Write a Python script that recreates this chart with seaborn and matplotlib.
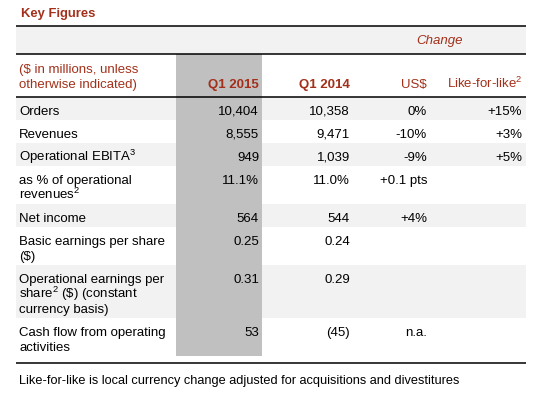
import matplotlib
matplotlib.use("Agg")
import matplotlib.pyplot as plt
import seaborn as sns

# table contents
row_labels = [
    "Orders",
    "Revenues",
    "Operational EBITA$^{3}$",
    "as % of operational\nrevenues$^{2}$",
    "Net income",
    "Basic earnings per share\n(\\$)",
    "Operational earnings per\nshare$^{2}$ (\\$) (constant\ncurrency basis)",
    "Cash flow from operating\nactivities",
]
q1_2015 = ["10,404", "8,555", "949", "11.1%", "564", "0.25", "0.31", "53"]
q1_2014 = ["10,358", "9,471", "1,039", "11.0%", "544", "0.24", "0.29", "(45)"]
change_usd = ["0%", "-10%", "-9%", "+0.1 pts", "+4%", "", "", "n.a."]
change_lfl = ["+15%", "+3%", "+5%", "", "", "", "", ""]
col_headers = ["Q1 2015", "Q1 2014", "US\\$", "Like-for-like$^{2}$"]
unit_header = "(\\$ in millions, unless\notherwise indicated)"
title = "Key Figures"
group_header = "Change"
footnote = "Like-for-like is local currency change adjusted for acquisitions and divestitures"

sns.set_theme(style="white")
plt.rcParams["font.family"] = ["Liberation Sans", "DejaVu Sans"]
plt.rcParams["mathtext.fontset"] = "custom"
plt.rcParams["mathtext.rm"] = "Liberation Sans"
plt.rcParams["mathtext.it"] = "Liberation Sans:italic"
plt.rcParams["mathtext.bf"] = "Liberation Sans:bold"

RED = "#a3301a"
SHADE = "#f2f2f2"
COLGRAY = "#c0c0c0"
FS = 9.5
LH = 15  # line height in px

fig = plt.figure(figsize=(5.46, 4.02), dpi=100)
ax = fig.add_axes([0, 0, 1, 1])
ax.set_xlim(0, 546)
ax.set_ylim(402, 0)
ax.axis("off")

x0, x1 = 16, 526
col_right = [259, 350, 427, 522]

# header band
ax.add_patch(plt.Rectangle((x0, 27), x1 - x0, 28, color=SHADE, lw=0, zorder=0))

# body rows
top = 98
row_tops = []
for i, lab in enumerate(row_labels):
    n = lab.count("\n") + 1
    h = 23 + LH * (n - 1)
    row_tops.append(top)
    if i % 2 == 0:
        ax.add_patch(plt.Rectangle((x0, top), x1 - x0, h, color=SHADE, lw=0, zorder=0))
    top += h
body_bottom = top

# highlighted current-quarter column
ax.add_patch(plt.Rectangle((176, 55), 86, body_bottom - 55, color=COLGRAY, lw=0, zorder=1))

# rules
for y in [27, 55, 98, 364]:
    ax.plot([x0, x1], [y, y], color="black", lw=1.1, zorder=3, solid_capstyle="butt")

ax.text(21, 17, title, color=RED, fontsize=9.4, fontweight="bold", va="baseline")
ax.text(440, 44, group_header, color=RED, fontsize=FS, style="italic", ha="center", va="baseline")

for k, line in enumerate(unit_header.split("\n")):
    ax.text(19, 73 + LH * k, line, color=RED, fontsize=FS, va="baseline")
for j, hdr in enumerate(col_headers):
    bold = j < 2
    ax.text(col_right[j], 88, hdr, color=RED, fontsize=FS, ha="right", va="baseline",
            fontweight="bold" if bold else "normal", zorder=4)

columns = [q1_2015, q1_2014, change_usd, change_lfl]
for i, lab in enumerate(row_labels):
    base = row_tops[i] + 17
    for k, line in enumerate(lab.split("\n")):
        ax.text(19, base + LH * k, line, color="black", fontsize=FS, va="baseline", zorder=4)
    for j, col in enumerate(columns):
        if col[i]:
            ax.text(col_right[j], base, col[i], color="black", fontsize=FS,
                    ha="right", va="baseline", zorder=4)

ax.text(19, 384, footnote, color="black", fontsize=9.2, va="baseline")

fig.savefig("out.png", dpi=100)
